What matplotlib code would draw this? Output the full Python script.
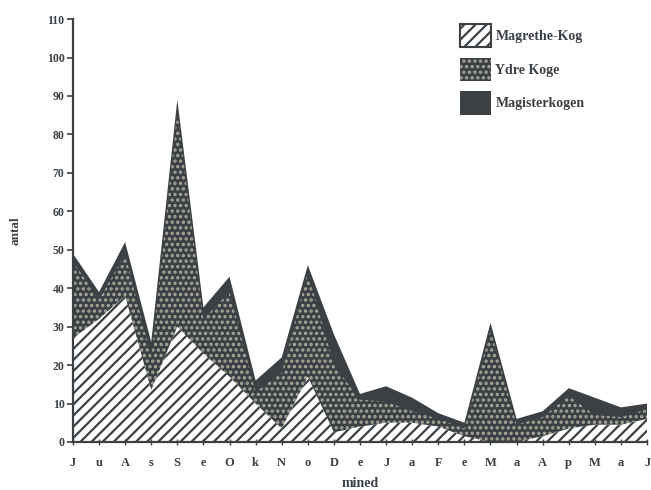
import matplotlib
matplotlib.use("Agg")
import matplotlib.pyplot as plt
from matplotlib.patches import Patch
import numpy as np

# tick labels along the x axis (half-month steps)
tick_labels = ['J', 'u', 'A', 's', 'S', 'e', 'O', 'k', 'N', 'o', 'D', 'e',
               'J', 'a', 'F', 'e', 'M', 'a', 'A', 'p', 'M', 'a', 'J']

# values per series (stacked: Magrethe-Kog at bottom)
magrethe_kog = [27, 32, 38, 13.5, 30, 23, 17, 10, 3.5, 17, 2.5, 4,
                5, 5, 4, 1.5, 0, 0, 1.5, 3.5, 4.5, 4.5, 6]
ydre_koge = [20, 5, 11, 8.5, 56, 9, 22, 3, 14.5, 27, 17.5, 7,
             5.5, 3, 2, 2, 29, 4.5, 5, 8.5, 2.5, 2, 2.5]
magisterkogen = [2, 2, 3, 4, 3, 3, 4, 3, 4, 2, 8, 1.5,
                 4, 3.5, 1.5, 1.5, 2, 1.5, 1.5, 2, 4.5, 2.5, 1.5]

labels = ['Magrethe-Kog', 'Ydre Koge', 'Magisterkogen']

dark = '#3b4045'
dots = '#aaa89a'

plt.rcParams['font.family'] = ['Liberation Serif', 'DejaVu Serif']
plt.rcParams['font.weight'] = 'bold'
plt.rcParams['hatch.linewidth'] = 1.6

x = np.arange(len(tick_labels))
m = np.array(magrethe_kog, dtype=float)
y = np.array(ydre_koge, dtype=float)
d = np.array(magisterkogen, dtype=float)
top1 = m
top2 = m + y
top3 = m + y + d

fig = plt.figure(figsize=(6.51, 4.90), dpi=100)
ax = fig.add_axes([0.112, 0.098, 0.882, 0.863])

# Magisterkogen (solid dark), drawn as the full stack first
ax.fill_between(x, 0, top3, facecolor=dark, edgecolor='none', linewidth=0)
# Ydre Koge (stippled)
ax.fill_between(x, 0, top2, facecolor=dark, edgecolor=dots, hatch='...',
                linewidth=0)
# Magrethe-Kog (diagonal hatch)
ax.fill_between(x, 0, top1, facecolor='white', edgecolor=dark, hatch='///',
                linewidth=0)

ax.set_xlim(0, len(x) - 1)
ax.set_ylim(0, 110)
ax.set_yticks(np.arange(0, 111, 10))
ax.set_xticks(x)
ax.set_xticklabels(tick_labels)

for side in ['top', 'right']:
    ax.spines[side].set_visible(False)
for side in ['left', 'bottom']:
    ax.spines[side].set_color(dark)
    ax.spines[side].set_linewidth(1.6)

ax.tick_params(axis='y', direction='out', length=4, width=1.2, color=dark,
               labelsize=8.5, labelcolor=dark, pad=2)
ax.tick_params(axis='x', direction='inout', length=5, width=1.0, color=dark,
               labelsize=9, labelcolor=dark, pad=8)

ax.set_ylabel('antal', fontsize=9.5, color=dark, fontweight='bold', labelpad=18)
ax.set_xlabel('mined', fontsize=10, color=dark, fontweight='bold', labelpad=6)

handles = [
    Patch(facecolor='white', edgecolor=dark, hatch='///', linewidth=1.5),
    Patch(facecolor=dark, edgecolor=dots, hatch='...', linewidth=0),
    Patch(facecolor=dark, edgecolor='none', linewidth=0),
]
leg = fig.legend(handles, labels, loc='upper left',
                 bbox_to_anchor=(460 / 651, 1 - 24 / 490),
                 frameon=False, fontsize=10, handlelength=2.2,
                 handleheight=2.2, labelspacing=0.75, handletextpad=0.35,
                 borderpad=0, borderaxespad=0)
for t in leg.get_texts():
    t.set_color(dark)

fig.savefig('out.png', dpi=100)
